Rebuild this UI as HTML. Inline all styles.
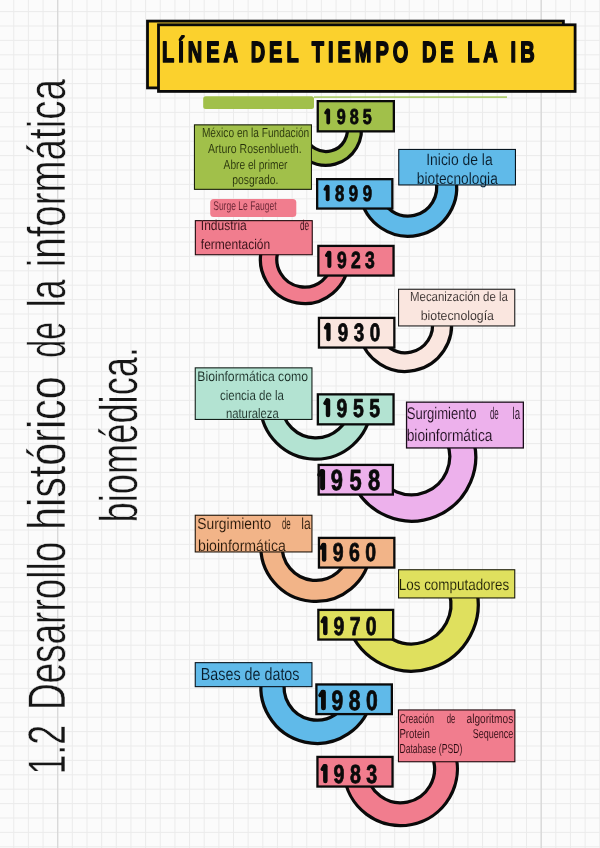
<!DOCTYPE html>
<html><head><meta charset="utf-8"><title>Línea del tiempo de la IB</title><style>html,body{margin:0;padding:0;background:#fbfbfb;}body{width:600px;height:848px;overflow:hidden;font-family:"Liberation Sans",sans-serif;}svg{display:block;will-change:transform;}</style></head><body><svg width="600" height="848" viewBox="0 0 600 848" font-family="'Liberation Sans', sans-serif" text-rendering="geometricPrecision">
<rect width="600" height="848" fill="#fbfbfb"/>
<g stroke="#ebebeb" stroke-width="1"><line x1="-0.90" y1="0" x2="-0.90" y2="848"/><line x1="13.75" y1="0" x2="13.75" y2="848"/><line x1="28.40" y1="0" x2="28.40" y2="848"/><line x1="43.05" y1="0" x2="43.05" y2="848"/><line x1="57.70" y1="0" x2="57.70" y2="848"/><line x1="72.35" y1="0" x2="72.35" y2="848"/><line x1="87.00" y1="0" x2="87.00" y2="848"/><line x1="101.65" y1="0" x2="101.65" y2="848"/><line x1="116.30" y1="0" x2="116.30" y2="848"/><line x1="130.95" y1="0" x2="130.95" y2="848"/><line x1="145.60" y1="0" x2="145.60" y2="848"/><line x1="160.25" y1="0" x2="160.25" y2="848"/><line x1="174.90" y1="0" x2="174.90" y2="848"/><line x1="189.55" y1="0" x2="189.55" y2="848"/><line x1="204.20" y1="0" x2="204.20" y2="848"/><line x1="218.85" y1="0" x2="218.85" y2="848"/><line x1="233.50" y1="0" x2="233.50" y2="848"/><line x1="248.15" y1="0" x2="248.15" y2="848"/><line x1="262.80" y1="0" x2="262.80" y2="848"/><line x1="277.45" y1="0" x2="277.45" y2="848"/><line x1="292.10" y1="0" x2="292.10" y2="848"/><line x1="306.75" y1="0" x2="306.75" y2="848"/><line x1="321.40" y1="0" x2="321.40" y2="848"/><line x1="336.05" y1="0" x2="336.05" y2="848"/><line x1="350.70" y1="0" x2="350.70" y2="848"/><line x1="365.35" y1="0" x2="365.35" y2="848"/><line x1="380.00" y1="0" x2="380.00" y2="848"/><line x1="394.65" y1="0" x2="394.65" y2="848"/><line x1="409.30" y1="0" x2="409.30" y2="848"/><line x1="423.95" y1="0" x2="423.95" y2="848"/><line x1="438.60" y1="0" x2="438.60" y2="848"/><line x1="453.25" y1="0" x2="453.25" y2="848"/><line x1="467.90" y1="0" x2="467.90" y2="848"/><line x1="482.55" y1="0" x2="482.55" y2="848"/><line x1="497.20" y1="0" x2="497.20" y2="848"/><line x1="511.85" y1="0" x2="511.85" y2="848"/><line x1="526.50" y1="0" x2="526.50" y2="848"/><line x1="541.15" y1="0" x2="541.15" y2="848"/><line x1="555.80" y1="0" x2="555.80" y2="848"/><line x1="570.45" y1="0" x2="570.45" y2="848"/><line x1="585.10" y1="0" x2="585.10" y2="848"/><line x1="599.75" y1="0" x2="599.75" y2="848"/><line x1="0" y1="-2.80" x2="600" y2="-2.80"/><line x1="0" y1="11.60" x2="600" y2="11.60"/><line x1="0" y1="26.00" x2="600" y2="26.00"/><line x1="0" y1="40.40" x2="600" y2="40.40"/><line x1="0" y1="54.80" x2="600" y2="54.80"/><line x1="0" y1="69.20" x2="600" y2="69.20"/><line x1="0" y1="83.60" x2="600" y2="83.60"/><line x1="0" y1="98.00" x2="600" y2="98.00"/><line x1="0" y1="112.40" x2="600" y2="112.40"/><line x1="0" y1="126.80" x2="600" y2="126.80"/><line x1="0" y1="141.20" x2="600" y2="141.20"/><line x1="0" y1="155.60" x2="600" y2="155.60"/><line x1="0" y1="170.00" x2="600" y2="170.00"/><line x1="0" y1="184.40" x2="600" y2="184.40"/><line x1="0" y1="198.80" x2="600" y2="198.80"/><line x1="0" y1="213.20" x2="600" y2="213.20"/><line x1="0" y1="227.60" x2="600" y2="227.60"/><line x1="0" y1="242.00" x2="600" y2="242.00"/><line x1="0" y1="256.40" x2="600" y2="256.40"/><line x1="0" y1="270.80" x2="600" y2="270.80"/><line x1="0" y1="285.20" x2="600" y2="285.20"/><line x1="0" y1="299.60" x2="600" y2="299.60"/><line x1="0" y1="314.00" x2="600" y2="314.00"/><line x1="0" y1="328.40" x2="600" y2="328.40"/><line x1="0" y1="342.80" x2="600" y2="342.80"/><line x1="0" y1="357.20" x2="600" y2="357.20"/><line x1="0" y1="371.60" x2="600" y2="371.60"/><line x1="0" y1="386.00" x2="600" y2="386.00"/><line x1="0" y1="400.40" x2="600" y2="400.40"/><line x1="0" y1="414.80" x2="600" y2="414.80"/><line x1="0" y1="429.20" x2="600" y2="429.20"/><line x1="0" y1="443.60" x2="600" y2="443.60"/><line x1="0" y1="458.00" x2="600" y2="458.00"/><line x1="0" y1="472.40" x2="600" y2="472.40"/><line x1="0" y1="486.80" x2="600" y2="486.80"/><line x1="0" y1="501.20" x2="600" y2="501.20"/><line x1="0" y1="515.60" x2="600" y2="515.60"/><line x1="0" y1="530.00" x2="600" y2="530.00"/><line x1="0" y1="544.40" x2="600" y2="544.40"/><line x1="0" y1="558.80" x2="600" y2="558.80"/><line x1="0" y1="573.20" x2="600" y2="573.20"/><line x1="0" y1="587.60" x2="600" y2="587.60"/><line x1="0" y1="602.00" x2="600" y2="602.00"/><line x1="0" y1="616.40" x2="600" y2="616.40"/><line x1="0" y1="630.80" x2="600" y2="630.80"/><line x1="0" y1="645.20" x2="600" y2="645.20"/><line x1="0" y1="659.60" x2="600" y2="659.60"/><line x1="0" y1="674.00" x2="600" y2="674.00"/><line x1="0" y1="688.40" x2="600" y2="688.40"/><line x1="0" y1="702.80" x2="600" y2="702.80"/><line x1="0" y1="717.20" x2="600" y2="717.20"/><line x1="0" y1="731.60" x2="600" y2="731.60"/><line x1="0" y1="746.00" x2="600" y2="746.00"/><line x1="0" y1="760.40" x2="600" y2="760.40"/><line x1="0" y1="774.80" x2="600" y2="774.80"/><line x1="0" y1="789.20" x2="600" y2="789.20"/><line x1="0" y1="803.60" x2="600" y2="803.60"/><line x1="0" y1="818.00" x2="600" y2="818.00"/><line x1="0" y1="832.40" x2="600" y2="832.40"/><line x1="0" y1="846.80" x2="600" y2="846.80"/></g>
<g stroke="#d6d6d6" stroke-width="1.2"><line x1="57.7" y1="0" x2="57.7" y2="848"/><line x1="541.2" y1="0" x2="541.2" y2="848"/></g>
<rect x="314" y="96.3" width="193" height="1.6" fill="#a9c963"/>
<rect x="203.2" y="96.3" width="110.8" height="12.6" rx="2.5" fill="#a1c04a"/>
<path d="M360.27,121.02 A35.48,35.48 0 0 1 291.73,139.38 L305.40,135.72 A21.32,21.32 0 0 0 346.60,124.68 Z" fill="#a1c04a" stroke="#0a0a0a" stroke-width="3.25" stroke-linejoin="round"/>
<path d="M454.92,175.05 A48.48,48.48 0 1 1 360.36,196.02 L379.91,192.57 A28.62,28.62 0 1 0 435.75,180.19 Z" fill="#60bae9" stroke="#0a0a0a" stroke-width="3.25" stroke-linejoin="round"/>
<path d="M348.48,259.50 A43.98,43.98 0 1 1 263.18,244.46 L278.54,250.05 A27.62,27.62 0 1 0 332.12,259.50 Z" fill="#f17d8e" stroke="#0a0a0a" stroke-width="3.25" stroke-linejoin="round"/>
<path d="M450.66,315.94 A46.48,46.48 0 0 1 359.74,335.26 L378.37,331.30 A27.43,27.43 0 0 0 432.03,319.90 Z" fill="#fae6df" stroke="#0a0a0a" stroke-width="3.25" stroke-linejoin="round"/>
<path d="M371.06,408.63 A55.48,55.48 0 0 1 260.36,405.74 L281.60,404.99 A34.23,34.23 0 0 0 349.89,406.78 Z" fill="#b3e3d2" stroke="#0a0a0a" stroke-width="3.25" stroke-linejoin="round"/>
<path d="M471.02,433.23 A63.97,63.97 0 0 1 352.38,481.17 L376.17,471.56 A38.33,38.33 0 0 0 447.23,442.84 Z" fill="#edb1ec" stroke="#0a0a0a" stroke-width="3.25" stroke-linejoin="round"/>
<path d="M370.57,551.59 A54.98,54.98 0 0 1 261.03,542.01 L282.30,543.87 A33.62,33.62 0 0 0 349.30,549.73 Z" fill="#f2b488" stroke="#0a0a0a" stroke-width="3.25" stroke-linejoin="round"/>
<path d="M475.59,585.99 A66.78,66.78 0 0 1 348.65,627.24 L374.26,617.92 A39.52,39.52 0 0 0 449.39,593.51 Z" fill="#dfe05e" stroke="#0a0a0a" stroke-width="3.25" stroke-linejoin="round"/>
<path d="M372.12,697.02 A55.98,55.98 0 1 1 262.93,672.81 L285.29,678.80 A32.83,32.83 0 1 0 349.33,693.00 Z" fill="#60bae9" stroke="#0a0a0a" stroke-width="3.25" stroke-linejoin="round"/>
<path d="M454.60,751.36 A56.77,56.77 0 1 1 344.04,773.85 L366.80,771.86 A33.92,33.92 0 1 0 432.86,758.42 Z" fill="#f17d8e" stroke="#0a0a0a" stroke-width="3.25" stroke-linejoin="round"/>
<rect x="194.45" y="124.85" width="117.00" height="64.50" rx="0" fill="#a1c04a" stroke="#1a200a" stroke-width="1.1"/>
<rect x="210.20" y="198.90" width="86.10" height="18.00" rx="3.5" fill="#f17d8e"/>
<rect x="195.35" y="220.65" width="116.90" height="34.10" rx="0" fill="#f17d8e" stroke="#1f080c" stroke-width="1.1"/>
<rect x="398.75" y="149.45" width="116.70" height="35.50" rx="0" fill="#60bae9" stroke="#08151f" stroke-width="1.1"/>
<rect x="398.55" y="289.25" width="116.20" height="36.70" rx="0" fill="#fae6df" stroke="#1c1c1c" stroke-width="1.1"/>
<rect x="195.25" y="367.85" width="116.70" height="51.60" rx="0" fill="#b3e3d2" stroke="#141f1a" stroke-width="1.1"/>
<rect x="406.55" y="402.15" width="116.80" height="45.80" rx="0" fill="#edb1ec" stroke="#1a0d1a" stroke-width="1.3"/>
<rect x="195.25" y="515.25" width="116.70" height="36.70" rx="0" fill="#f2b488" stroke="#1f140a" stroke-width="1.1"/>
<rect x="398.55" y="569.75" width="116.20" height="28.20" rx="0" fill="#dfe05e" stroke="#1c1c08" stroke-width="1.1"/>
<rect x="195.25" y="662.65" width="116.70" height="24.00" rx="0" fill="#60bae9" stroke="#08151f" stroke-width="1.1"/>
<rect x="398.45" y="709.95" width="116.40" height="51.80" rx="0" fill="#f17d8e" stroke="#1f080c" stroke-width="1.1"/>
<rect x="317.75" y="101.15" width="76.10" height="30.20" rx="0" fill="#a1c04a" stroke="#0a0a0a" stroke-width="2.3"/>
<path d="M328.24,110.38 L328.24,122.62" stroke="#0a0a0a" stroke-width="3.76" stroke-linecap="round" fill="none"/>
<path d="M327.44,110.00 L325.70,112.82" stroke="#0a0a0a" stroke-width="3.01" stroke-linecap="round" fill="none"/>
<text transform="translate(341.26,124.10) scale(0.750,1)" text-anchor="middle" font-size="21.56" font-weight="bold" fill="#0a0a0a" stroke="#0a0a0a" stroke-width="0.8" stroke-linejoin="round">9</text>
<text transform="translate(354.26,124.10) scale(0.750,1)" text-anchor="middle" font-size="21.56" font-weight="bold" fill="#0a0a0a" stroke="#0a0a0a" stroke-width="0.8" stroke-linejoin="round">8</text>
<text transform="translate(367.26,124.10) scale(0.750,1)" text-anchor="middle" font-size="21.56" font-weight="bold" fill="#0a0a0a" stroke="#0a0a0a" stroke-width="0.8" stroke-linejoin="round">5</text>
<rect x="317.15" y="179.15" width="75.20" height="29.40" rx="0" fill="#60bae9" stroke="#0a0a0a" stroke-width="2.3"/>
<path d="M327.67,186.69 L327.67,199.31" stroke="#0a0a0a" stroke-width="3.88" stroke-linecap="round" fill="none"/>
<path d="M326.84,186.30 L325.05,189.21" stroke="#0a0a0a" stroke-width="3.10" stroke-linecap="round" fill="none"/>
<text transform="translate(339.53,200.85) scale(0.750,1)" text-anchor="middle" font-size="22.27" font-weight="bold" fill="#0a0a0a" stroke="#0a0a0a" stroke-width="0.8" stroke-linejoin="round">8</text>
<text transform="translate(353.48,200.85) scale(0.750,1)" text-anchor="middle" font-size="22.27" font-weight="bold" fill="#0a0a0a" stroke="#0a0a0a" stroke-width="0.8" stroke-linejoin="round">9</text>
<text transform="translate(367.43,200.85) scale(0.750,1)" text-anchor="middle" font-size="22.27" font-weight="bold" fill="#0a0a0a" stroke="#0a0a0a" stroke-width="0.8" stroke-linejoin="round">9</text>
<rect x="318.35" y="245.90" width="75.20" height="29.65" rx="0" fill="#f17d8e" stroke="#0a0a0a" stroke-width="2.3"/>
<path d="M329.36,252.78 L329.36,265.97" stroke="#0a0a0a" stroke-width="4.05" stroke-linecap="round" fill="none"/>
<path d="M328.49,252.37 L326.62,255.41" stroke="#0a0a0a" stroke-width="3.24" stroke-linecap="round" fill="none"/>
<text transform="translate(341.81,267.60) scale(0.751,1)" text-anchor="middle" font-size="23.33" font-weight="bold" fill="#0a0a0a" stroke="#0a0a0a" stroke-width="0.8" stroke-linejoin="round">9</text>
<text transform="translate(355.87,267.60) scale(0.751,1)" text-anchor="middle" font-size="23.33" font-weight="bold" fill="#0a0a0a" stroke="#0a0a0a" stroke-width="0.8" stroke-linejoin="round">2</text>
<text transform="translate(369.93,267.60) scale(0.751,1)" text-anchor="middle" font-size="23.33" font-weight="bold" fill="#0a0a0a" stroke="#0a0a0a" stroke-width="0.8" stroke-linejoin="round">3</text>
<rect x="318.95" y="317.90" width="75.40" height="29.65" rx="0" fill="#fae6df" stroke="#0a0a0a" stroke-width="2.3"/>
<path d="M328.46,324.92 L328.46,339.03" stroke="#0a0a0a" stroke-width="4.34" stroke-linecap="round" fill="none"/>
<path d="M327.54,324.48 L325.53,327.73" stroke="#0a0a0a" stroke-width="3.47" stroke-linecap="round" fill="none"/>
<text transform="translate(343.06,340.80) scale(0.751,1)" text-anchor="middle" font-size="25.04" font-weight="bold" fill="#0a0a0a" stroke="#0a0a0a" stroke-width="0.8" stroke-linejoin="round">9</text>
<text transform="translate(358.96,340.80) scale(0.751,1)" text-anchor="middle" font-size="25.04" font-weight="bold" fill="#0a0a0a" stroke="#0a0a0a" stroke-width="0.8" stroke-linejoin="round">3</text>
<text transform="translate(374.86,340.80) scale(0.751,1)" text-anchor="middle" font-size="25.04" font-weight="bold" fill="#0a0a0a" stroke="#0a0a0a" stroke-width="0.8" stroke-linejoin="round">0</text>
<rect x="317.85" y="394.35" width="75.70" height="30.00" rx="0" fill="#b3e3d2" stroke="#0a0a0a" stroke-width="2.3"/>
<path d="M328.00,400.43 L328.00,414.97" stroke="#0a0a0a" stroke-width="4.46" stroke-linecap="round" fill="none"/>
<path d="M327.05,399.99 L324.99,403.33" stroke="#0a0a0a" stroke-width="3.57" stroke-linecap="round" fill="none"/>
<text transform="translate(341.91,416.80) scale(0.752,1)" text-anchor="middle" font-size="25.82" font-weight="bold" fill="#0a0a0a" stroke="#0a0a0a" stroke-width="0.8" stroke-linejoin="round">9</text>
<text transform="translate(358.31,416.80) scale(0.752,1)" text-anchor="middle" font-size="25.82" font-weight="bold" fill="#0a0a0a" stroke="#0a0a0a" stroke-width="0.8" stroke-linejoin="round">5</text>
<text transform="translate(374.71,416.80) scale(0.752,1)" text-anchor="middle" font-size="25.82" font-weight="bold" fill="#0a0a0a" stroke="#0a0a0a" stroke-width="0.8" stroke-linejoin="round">5</text>
<rect x="318.65" y="464.90" width="74.20" height="29.65" rx="0" fill="#edb1ec" stroke="#0a0a0a" stroke-width="2.3"/>
<path d="M322.58,471.50 L322.58,487.80" stroke="#0a0a0a" stroke-width="5.01" stroke-linecap="round" fill="none"/>
<path d="M321.51,471.00 L319.20,474.75" stroke="#0a0a0a" stroke-width="4.00" stroke-linecap="round" fill="none"/>
<text transform="translate(336.91,489.90) scale(0.753,1)" text-anchor="middle" font-size="29.08" font-weight="bold" fill="#0a0a0a" stroke="#0a0a0a" stroke-width="0.8" stroke-linejoin="round">9</text>
<text transform="translate(355.51,489.90) scale(0.753,1)" text-anchor="middle" font-size="29.08" font-weight="bold" fill="#0a0a0a" stroke="#0a0a0a" stroke-width="0.8" stroke-linejoin="round">5</text>
<text transform="translate(374.11,489.90) scale(0.753,1)" text-anchor="middle" font-size="29.08" font-weight="bold" fill="#0a0a0a" stroke="#0a0a0a" stroke-width="0.8" stroke-linejoin="round">8</text>
<rect x="318.95" y="537.90" width="75.40" height="29.65" rx="0" fill="#f2b488" stroke="#0a0a0a" stroke-width="2.3"/>
<path d="M324.11,544.99 L324.11,559.56" stroke="#0a0a0a" stroke-width="4.48" stroke-linecap="round" fill="none"/>
<path d="M323.16,544.54 L321.09,547.89" stroke="#0a0a0a" stroke-width="3.58" stroke-linecap="round" fill="none"/>
<text transform="translate(338.05,561.40) scale(0.752,1)" text-anchor="middle" font-size="25.89" font-weight="bold" fill="#0a0a0a" stroke="#0a0a0a" stroke-width="0.8" stroke-linejoin="round">9</text>
<text transform="translate(354.35,561.40) scale(0.752,1)" text-anchor="middle" font-size="25.89" font-weight="bold" fill="#0a0a0a" stroke="#0a0a0a" stroke-width="0.8" stroke-linejoin="round">6</text>
<text transform="translate(370.65,561.40) scale(0.752,1)" text-anchor="middle" font-size="25.89" font-weight="bold" fill="#0a0a0a" stroke="#0a0a0a" stroke-width="0.8" stroke-linejoin="round">0</text>
<rect x="318.35" y="609.90" width="74.80" height="29.65" rx="0" fill="#dfe05e" stroke="#0a0a0a" stroke-width="2.3"/>
<path d="M325.31,618.49 L325.31,633.06" stroke="#0a0a0a" stroke-width="4.48" stroke-linecap="round" fill="none"/>
<path d="M324.36,618.04 L322.29,621.39" stroke="#0a0a0a" stroke-width="3.58" stroke-linecap="round" fill="none"/>
<text transform="translate(338.85,634.90) scale(0.752,1)" text-anchor="middle" font-size="25.89" font-weight="bold" fill="#0a0a0a" stroke="#0a0a0a" stroke-width="0.8" stroke-linejoin="round">9</text>
<text transform="translate(355.05,634.90) scale(0.752,1)" text-anchor="middle" font-size="25.89" font-weight="bold" fill="#0a0a0a" stroke="#0a0a0a" stroke-width="0.8" stroke-linejoin="round">7</text>
<text transform="translate(371.25,634.90) scale(0.752,1)" text-anchor="middle" font-size="25.89" font-weight="bold" fill="#0a0a0a" stroke="#0a0a0a" stroke-width="0.8" stroke-linejoin="round">0</text>
<rect x="316.40" y="684.45" width="75.45" height="29.65" rx="0" fill="#60bae9" stroke="#0a0a0a" stroke-width="2.3"/>
<path d="M323.44,692.16 L323.44,707.89" stroke="#0a0a0a" stroke-width="4.83" stroke-linecap="round" fill="none"/>
<path d="M322.41,691.68 L320.18,695.30" stroke="#0a0a0a" stroke-width="3.86" stroke-linecap="round" fill="none"/>
<text transform="translate(337.35,709.90) scale(0.753,1)" text-anchor="middle" font-size="28.01" font-weight="bold" fill="#0a0a0a" stroke="#0a0a0a" stroke-width="0.8" stroke-linejoin="round">9</text>
<text transform="translate(354.55,709.90) scale(0.753,1)" text-anchor="middle" font-size="28.01" font-weight="bold" fill="#0a0a0a" stroke="#0a0a0a" stroke-width="0.8" stroke-linejoin="round">8</text>
<text transform="translate(371.75,709.90) scale(0.753,1)" text-anchor="middle" font-size="28.01" font-weight="bold" fill="#0a0a0a" stroke="#0a0a0a" stroke-width="0.8" stroke-linejoin="round">0</text>
<rect x="317.45" y="756.90" width="75.10" height="29.65" rx="0" fill="#f17d8e" stroke="#0a0a0a" stroke-width="2.3"/>
<path d="M325.35,766.26 L325.35,780.94" stroke="#0a0a0a" stroke-width="4.51" stroke-linecap="round" fill="none"/>
<path d="M324.39,765.80 L322.30,769.18" stroke="#0a0a0a" stroke-width="3.61" stroke-linecap="round" fill="none"/>
<text transform="translate(339.06,782.80) scale(0.752,1)" text-anchor="middle" font-size="26.10" font-weight="bold" fill="#0a0a0a" stroke="#0a0a0a" stroke-width="0.8" stroke-linejoin="round">9</text>
<text transform="translate(355.36,782.80) scale(0.752,1)" text-anchor="middle" font-size="26.10" font-weight="bold" fill="#0a0a0a" stroke="#0a0a0a" stroke-width="0.8" stroke-linejoin="round">8</text>
<text transform="translate(371.66,782.80) scale(0.752,1)" text-anchor="middle" font-size="26.10" font-weight="bold" fill="#0a0a0a" stroke="#0a0a0a" stroke-width="0.8" stroke-linejoin="round">3</text>
<text x="201.90" y="136.90" font-size="13" font-weight="normal" fill="#232d0a" textLength="107.30" lengthAdjust="spacingAndGlyphs"  stroke="#a1c04a" stroke-width="0.12">México en la Fundación</text>
<text x="208.00" y="152.50" font-size="13" font-weight="normal" fill="#232d0a" textLength="93.60" lengthAdjust="spacingAndGlyphs"  stroke="#a1c04a" stroke-width="0.12">Arturo Rosenblueth.</text>
<text x="223.60" y="168.80" font-size="13" font-weight="normal" fill="#232d0a" textLength="63.90" lengthAdjust="spacingAndGlyphs"  stroke="#a1c04a" stroke-width="0.12">Abre el primer</text>
<text x="232.30" y="184.40" font-size="13" font-weight="normal" fill="#232d0a" textLength="46.10" lengthAdjust="spacingAndGlyphs"  stroke="#a1c04a" stroke-width="0.12">posgrado.</text>
<text x="213.20" y="209.70" font-size="12.6" font-weight="normal" fill="#5c1d2c" textLength="63.50" lengthAdjust="spacingAndGlyphs"  stroke="#f17d8e" stroke-width="0.12">Surge Le Fauget</text>
<text x="200.80" y="229.80" font-size="14" font-weight="normal" fill="#26080e" textLength="46.00" lengthAdjust="spacingAndGlyphs"  stroke="#f17d8e" stroke-width="0.12">Industria</text>
<text x="300.00" y="229.80" font-size="14" font-weight="normal" fill="#26080e" textLength="9.20" lengthAdjust="spacingAndGlyphs"  stroke="#f17d8e" stroke-width="0.12">de</text>
<text x="200.80" y="249.30" font-size="14" font-weight="normal" fill="#26080e" textLength="69.40" lengthAdjust="spacingAndGlyphs"  stroke="#f17d8e" stroke-width="0.12">fermentación</text>
<text x="426.20" y="164.50" font-size="16.2" font-weight="normal" fill="#081a28" textLength="66.50" lengthAdjust="spacingAndGlyphs"  stroke="#60bae9" stroke-width="0.12">Inicio de la</text>
<text x="416.80" y="184.30" font-size="16.2" font-weight="normal" fill="#081a28" textLength="81.00" lengthAdjust="spacingAndGlyphs"  stroke="#60bae9" stroke-width="0.12">biotecnologia</text>
<text x="410.00" y="300.70" font-size="13.2" font-weight="normal" fill="#241e1d" textLength="97.90" lengthAdjust="spacingAndGlyphs"  stroke="#fae6df" stroke-width="0.12">Mecanización de la</text>
<text x="420.70" y="319.90" font-size="13.2" font-weight="normal" fill="#241e1d" textLength="73.30" lengthAdjust="spacingAndGlyphs"  stroke="#fae6df" stroke-width="0.12">biotecnología</text>
<text x="197.30" y="381.20" font-size="13.8" font-weight="normal" fill="#10211a" textLength="110.70" lengthAdjust="spacingAndGlyphs"  stroke="#b3e3d2" stroke-width="0.12">Bioinformática como</text>
<text x="220.00" y="399.90" font-size="13.8" font-weight="normal" fill="#10211a" textLength="64.00" lengthAdjust="spacingAndGlyphs"  stroke="#b3e3d2" stroke-width="0.12">ciencia de la</text>
<text x="225.90" y="417.50" font-size="13.8" font-weight="normal" fill="#10211a" textLength="52.80" lengthAdjust="spacingAndGlyphs"  stroke="#b3e3d2" stroke-width="0.12">naturaleza</text>
<text x="406.70" y="419.30" font-size="16.8" font-weight="normal" fill="#1c0c1c" textLength="69.80" lengthAdjust="spacingAndGlyphs"  stroke="#edb1ec" stroke-width="0.12">Surgimiento</text>
<text x="489.90" y="419.30" font-size="16.8" font-weight="normal" fill="#1c0c1c" textLength="8.80" lengthAdjust="spacingAndGlyphs"  stroke="#edb1ec" stroke-width="0.12">de</text>
<text x="512.50" y="419.30" font-size="16.8" font-weight="normal" fill="#1c0c1c" textLength="7.50" lengthAdjust="spacingAndGlyphs"  stroke="#edb1ec" stroke-width="0.12">la</text>
<text x="406.70" y="440.70" font-size="16.8" font-weight="normal" fill="#1c0c1c" textLength="85.80" lengthAdjust="spacingAndGlyphs"  stroke="#edb1ec" stroke-width="0.12">bioinformática</text>
<text x="197.30" y="529.30" font-size="15.8" font-weight="normal" fill="#251608" textLength="73.90" lengthAdjust="spacingAndGlyphs"  stroke="#f2b488" stroke-width="0.12">Surgimiento</text>
<text x="281.90" y="529.30" font-size="15.8" font-weight="normal" fill="#251608" textLength="8.80" lengthAdjust="spacingAndGlyphs"  stroke="#f2b488" stroke-width="0.12">de</text>
<text x="301.30" y="529.30" font-size="15.8" font-weight="normal" fill="#251608" textLength="9.40" lengthAdjust="spacingAndGlyphs"  stroke="#f2b488" stroke-width="0.12">la</text>
<text x="198.10" y="550.70" font-size="15.8" font-weight="normal" fill="#251608" textLength="87.80" lengthAdjust="spacingAndGlyphs"  stroke="#f2b488" stroke-width="0.12">bioinformática</text>
<text x="398.80" y="590.00" font-size="16" font-weight="normal" fill="#202008" textLength="110.40" lengthAdjust="spacingAndGlyphs"  stroke="#dfe05e" stroke-width="0.12">Los computadores</text>
<text x="200.80" y="679.50" font-size="17.5" font-weight="normal" fill="#081a28" textLength="98.70" lengthAdjust="spacingAndGlyphs"  stroke="#60bae9" stroke-width="0.12">Bases de datos</text>
<text x="399.40" y="723.10" font-size="13" font-weight="normal" fill="#26080e" textLength="34.70" lengthAdjust="spacingAndGlyphs"  stroke="#f17d8e" stroke-width="0.12">Creación</text>
<text x="446.70" y="723.10" font-size="13" font-weight="normal" fill="#26080e" textLength="8.60" lengthAdjust="spacingAndGlyphs"  stroke="#f17d8e" stroke-width="0.12">de</text>
<text x="466.60" y="723.10" font-size="13" font-weight="normal" fill="#26080e" textLength="46.60" lengthAdjust="spacingAndGlyphs"  stroke="#f17d8e" stroke-width="0.12">algoritmos</text>
<text x="399.40" y="738.20" font-size="13" font-weight="normal" fill="#26080e" textLength="30.40" lengthAdjust="spacingAndGlyphs"  stroke="#f17d8e" stroke-width="0.12">Protein</text>
<text x="472.70" y="738.20" font-size="13" font-weight="normal" fill="#26080e" textLength="40.50" lengthAdjust="spacingAndGlyphs"  stroke="#f17d8e" stroke-width="0.12">Sequence</text>
<text x="399.40" y="752.80" font-size="13" font-weight="normal" fill="#26080e" textLength="62.90" lengthAdjust="spacingAndGlyphs"  stroke="#f17d8e" stroke-width="0.12">Database (PSD)</text>
<rect x="147.50" y="21.10" width="415.90" height="66.80" rx="0" fill="#fbd12d" stroke="#0a0a0a" stroke-width="2.8"/>
<rect x="158.50" y="24.80" width="416.60" height="66.60" rx="0" fill="#fbd12d" stroke="#0a0a0a" stroke-width="2.8"/>
<text transform="translate(162.0,62.3) scale(0.68,1)" font-size="29.4" font-weight="bold" fill="#0a0a0a" stroke="#0a0a0a" stroke-width="1.7" stroke-linejoin="round" textLength="547.9" lengthAdjust="spacing">LÍNEA DEL TIEMPO DE LA IB</text>
<g transform="translate(64.6,772.5) rotate(-90)" font-size="53" fill="#161616" stroke="#fbfbfb" stroke-width="0.55"><text x="-2.0" y="0" textLength="49.6" lengthAdjust="spacingAndGlyphs">1.2</text><text x="62.4" y="0" textLength="168.3" lengthAdjust="spacingAndGlyphs">Desarrollo</text><text x="242.7" y="0" textLength="153.4" lengthAdjust="spacingAndGlyphs">histórico</text><text x="414.8" y="0" textLength="35.9" lengthAdjust="spacingAndGlyphs">de</text><text x="464.9" y="0" textLength="28.3" lengthAdjust="spacingAndGlyphs">la</text><text x="505.2" y="0" textLength="188.1" lengthAdjust="spacingAndGlyphs">informática</text></g>
<g transform="translate(136.7,520.4) rotate(-90)"><text x="-2" y="0" font-size="53" fill="#161616" stroke="#fbfbfb" stroke-width="0.55" textLength="175.5" lengthAdjust="spacingAndGlyphs">biomédica.</text></g>
</svg></body></html>
